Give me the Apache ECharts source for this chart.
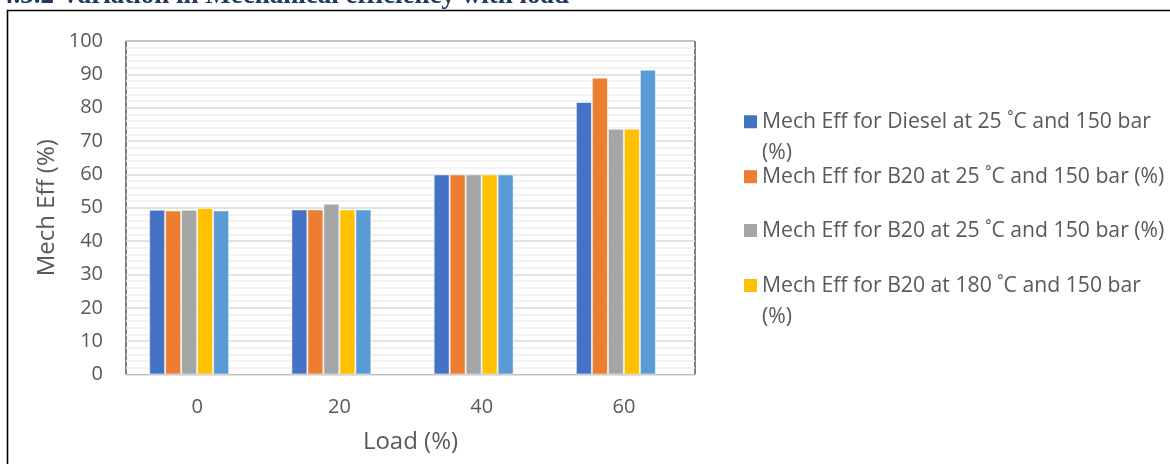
<!DOCTYPE html>
<html>
<head>
<meta charset="utf-8">
<script src="https://cdn.jsdelivr.net/npm/echarts@6/dist/echarts.min.js"></script>
<style>
  html, body { margin: 0; padding: 0; background: #fff; }
  #chart { width: 1170px; height: 464px; }
</style>
</head>
<body>
<div id="chart"></div>
<script>
// Engine load (%) on the category axis
const loads = ['0', '20', '40', '60'];

// Mechanical efficiency (%) per fuel / condition
const dieselAt25 = [49.4, 49.5, 60.0, 81.7];
const b20At25 = [49.2, 49.5, 60.0, 89.0];
const b20At25Repeat = [49.4, 51.2, 60.0, 73.7];
const b20At180 = [49.9, 49.5, 60.0, 73.7];
const fifthRun = [49.2, 49.5, 60.0, 91.4];

// Y-axis ticks
const yTicks = { min: 0, max: 100, interval: 10 };

const seriesNames = [
  'Mech Eff for Diesel at 25 ˚C and 150 bar (%)',
  'Mech Eff for B20 at 25 ˚C and 150 bar (%)',
  'Mech Eff for B20 at 25 ˚C and 150 bar (%) ',
  'Mech Eff for B20 at 180 ˚C and 150 bar (%)',
  'Series 5'
];
const seriesData = [dieselAt25, b20At25, b20At25Repeat, b20At180, fifthRun];
const colors = ['#4472C4', '#ED7D31', '#A5A5A5', '#FFC000', '#5B9BD5'];

const FONT = '"Open Sans", sans-serif';
const TEXT = '#595959';

const series = seriesData.map((d, i) => ({
  name: seriesNames[i],
  type: 'bar',
  data: d,
  barWidth: 16,
  barGap: '0%',
  itemStyle: { color: colors[i], borderColor: 'rgba(255,255,255,0.55)', borderWidth: 1 }
}));
// an empty sixth slot in each group (keeps the five bars left of centre)
series.push({ name: 'Series 6', type: 'bar', data: loads.map(() => null), barWidth: 16, barGap: '0%' });

// legend entries: [series index, label text, first-line centre y, wraps]
const legendRows = [
  [0, 'Mech Eff for Diesel at 25 ˚C and 150 bar\n(%)', 121.7, true],
  [1, 'Mech Eff for B20 at 25 ˚C and 150 bar (%)', 176.7, false],
  [2, 'Mech Eff for B20 at 25 ˚C and 150 bar (%)', 230.5, false],
  [3, 'Mech Eff for B20 at 180 ˚C and 150 bar\n(%)', 285.5, true]
];
const LINE = 31;
const legends = legendRows.map(([idx, label, cy, wraps]) => ({
  show: true,
  left: 744,
  top: cy - 6.5 - 9,
  padding: 0,
  orient: 'vertical',
  data: [seriesNames[idx]],
  selectedMode: false,
  itemWidth: 13,
  itemHeight: wraps ? 13 + LINE : 13,
  icon: wraps ? 'path://M0,0H13V13H0Z M0,44L0.01,44' : 'rect',
  itemStyle: { borderWidth: 0 },
  formatter: () => label,
  textStyle: { color: TEXT, fontFamily: FONT, fontSize: 21.2, lineHeight: LINE }
}));

const chart = echarts.init(document.getElementById('chart'), null, { renderer: 'canvas' });
chart.setOption({
  animation: false,
  backgroundColor: '#fff',
  color: colors,
  grid: {
    left: 126, right: 475, top: 41, bottom: 89.5,
    show: true, borderColor: '#000', borderWidth: 1
  },
  legend: legends,
  xAxis: {
    type: 'category',
    data: loads,
    name: 'Load (%)',
    nameLocation: 'middle',
    nameGap: 56,
    nameTextStyle: { color: TEXT, fontFamily: FONT, fontSize: 24 },
    axisLine: { show: true, lineStyle: { color: '#BFBFBF', width: 1 } },
    axisTick: { show: false },
    axisLabel: { color: TEXT, fontFamily: FONT, fontSize: 20, margin: 23 },
    splitLine: { show: false }
  },
  yAxis: {
    type: 'value',
    min: yTicks.min,
    max: yTicks.max,
    interval: yTicks.interval,
    name: 'Mech Eff (%)',
    nameLocation: 'middle',
    nameGap: 67,
    nameRotate: 90,
    nameTextStyle: { color: TEXT, fontFamily: FONT, fontSize: 24 },
    axisLine: { show: false },
    axisTick: { show: false },
    axisLabel: { color: TEXT, fontFamily: FONT, fontSize: 20, margin: 23 },
    splitLine: { show: true, lineStyle: { color: '#D9D9D9', width: 1.5 } },
    minorTick: { show: false, splitNumber: 5 },
    minorSplitLine: { show: true, lineStyle: { color: '#EFEFEF', width: 1.5 } }
  },
  graphic: [
    {
      type: 'rect',
      silent: true,
      shape: { x: 7.5, y: 10.5, width: 1300, height: 600 },
      style: { fill: 'none', stroke: '#000', lineWidth: 1.6 }
    },
    {
      type: 'text',
      silent: true,
      left: 0,
      top: -17,
      z: -1,
      style: {
        text: '4.3.2 Variation in Mechanical efficiency with load',
        fill: '#1F3864',
        font: 'bold 27px "Liberation Serif", serif'
      }
    }
  ],
  series: series
});
</script>
</body>
</html>
